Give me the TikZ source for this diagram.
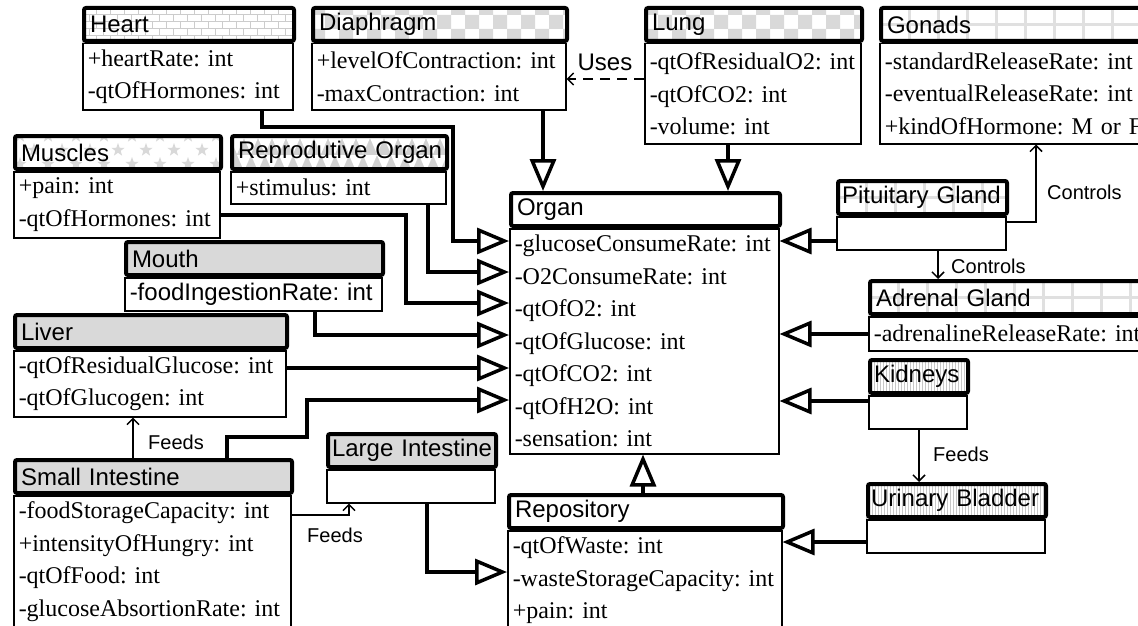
\documentclass[tikz,border=0pt]{standalone}
\usepackage{fontspec}
\setmainfont{Liberation Serif}
\setsansfont{Liberation Sans}
\usetikzlibrary{arrows.meta}

% header backgrounds, drawn in a scope shifted to the header's bottom left corner
\newcommand\hdrchecker{\foreach \cx in {0,28,...,308}{\fill[black!15] (\cx,0) rectangle ++(14,-14) (\cx+14,-14) rectangle ++(14,-14) (\cx,-28) rectangle ++(14,-14);}}
\newcommand\hdrbricks{\foreach \ry/\off in {0/0,-7/7,-14/0,-21/7,-28/0}{\fill[black!20] (0,\ry) rectangle (320,\ry-1.2);
  \foreach \cx in {0,14,...,308}{\fill[black!20] (\cx+\off,\ry) rectangle ++(1.2,-7);}}}
\newcommand\hdrgrid{\foreach \cx in {0,29,...,319}{\fill[black!12] (\cx,0) rectangle ++(3,-33);} \fill[black!12] (0,-17) rectangle (320,-20);}
\newcommand\hdrstars{\foreach \cx in {0,28,...,308}{\foreach \sx/\sy in {7/-7,21/-21,7/-35}{
  \fill[black!15,shift={(\cx+\sx,\sy)}] (270:7) -- (234:2.8) -- (198:7) -- (162:2.8) -- (126:7) -- (90:2.8) -- (54:7) -- (18:2.8) -- (342:7) -- (306:2.8) -- cycle;}}}
\newcommand\hdrspikes{\fill[black!18] (0,0) rectangle (320,-33);
  \foreach \cx in {0,14,...,308}{\fill[white] (\cx,-33) -- (\cx+7,-17) -- (\cx+14,-33) -- cycle (\cx+7,-16) -- (\cx+14,0) -- (\cx+21,-16) -- cycle;}}
\newcommand\hdrlines{\foreach \cx in {0,3,...,318}{\fill[black!22] (\cx,0) rectangle ++(0.8,-33);}}

\begin{document}
\begin{tikzpicture}[x=1pt,y=-1pt,
  every node/.style={execute at begin node={\frenchspacing\hyphenpenalty=10000}},
  body/.style={draw, line width=1.5pt, anchor=north west, inner xsep=5pt, inner ysep=2pt,
    align=left, font=\fontsize{24}{32.5}\selectfont},
  hdr/.style={draw, line width=4pt, rounded corners=2pt, anchor=south west, minimum height=33,
    inner xsep=6pt, inner ysep=0pt, align=left, font=\sffamily\fontsize{24}{28}\selectfont},
  gray/.style={fill=black!15},
  inherit/.style={line width=4pt, -{Triangle[open,length=32pt,width=26pt,line width=3.5pt]}},
  assoc/.style={line width=1.5pt, -{Straight Barb[length=6pt,width=12pt]}},
  lbl/.style={font=\sffamily\fontsize{20}{24}\selectfont, inner sep=1pt}]

\clip (0,0) rectangle (1138,626);

% top row
\node[body, minimum width=210, minimum height=66, text width=200] (heart) at (82,43) {+heartRate:~int\\-qtOfHormones:~int};
\begin{scope}[shift={(heart.north west)}] \clip (0,0) rectangle (210,-33); \hdrbricks \end{scope}
\node[hdr, minimum width=210, text width=198] (heartH) at (heart.north west) {Heart};

\node[body, minimum width=254, minimum height=66, text width=244] (diaphragm) at (311,43) {+levelOfContraction:~int\\-maxContraction:~int};
\begin{scope}[shift={(diaphragm.north west)}] \clip (0,0) rectangle (254,-33); \hdrchecker \end{scope}
\node[hdr, minimum width=254, text width=242] (diaphragmH) at (diaphragm.north west) {Diaphragm};

\node[body, minimum width=216, minimum height=100, text width=206] (lung) at (644,43) {-qtOfResidualO2:~int\\-qtOfCO2:~int\\-volume:~int};
\begin{scope}[shift={(lung.north west)}] \clip (0,0) rectangle (216,-33); \hdrchecker \end{scope}
\node[hdr, minimum width=216, text width=204] (lungH) at (lung.north west) {Lung};

\node[body, minimum width=300, minimum height=100, text width=290] (gonads) at (879,43) {-standardReleaseRate:~int\\-eventualReleaseRate:~int\\+kindOfHormone:~M~or~F};
\begin{scope}[shift={(gonads.north west)}] \clip (0,0) rectangle (300,-33); \hdrgrid \end{scope}
\node[hdr, minimum width=300, text width=288] (gonadsH) at (gonads.north west) {Gonads};

% left column
\node[body, minimum width=206, minimum height=66, text width=196] (muscles) at (13,171) {+pain:~int\\-qtOfHormones:~int};
\begin{scope}[shift={(muscles.north west)}] \clip (0,0) rectangle (206,-33); \hdrstars \end{scope}
\node[hdr, minimum width=206, text width=194] (musclesH) at (muscles.north west) {Muscles};

\node[body, minimum width=215, minimum height=32, text width=205] (repro) at (230,171) {+stimulus:~int};
\begin{scope}[shift={(repro.north west)}] \clip (0,0) rectangle (215,-33); \hdrspikes \end{scope}
\node[hdr, minimum width=215, text width=203, inner xsep=5pt] (reproH) at (repro.north west) {Reprodutive~Organ};

\node[body, minimum width=257, minimum height=33, text width=247, font=\sffamily\fontsize{24}{28}\selectfont] (mouth) at (124,277) {-foodIngestionRate:~int};
\node[hdr, gray, minimum width=257, text width=245] (mouthH) at (mouth.north west) {Mouth};

\node[body, minimum width=272, minimum height=66, text width=262] (liver) at (13,350) {-qtOfResidualGlucose:~int\\-qtOfGlucogen:~int};
\node[hdr, gray, minimum width=272, text width=260] (liverH) at (liver.north west) {Liver};

\node[body, minimum width=277, minimum height=132, text width=267] (small) at (13,495) {-foodStorageCapacity:~int\\+intensityOfHungry:~int\\-qtOfFood:~int\\-glucoseAbsortionRate:~int};
\node[hdr, gray, minimum width=277, text width=265] (smallH) at (small.north west) {Small~Intestine};

\node[body, minimum width=168, minimum height=33, text width=158] (large) at (326,469) {};
\node[hdr, gray, minimum width=168, text width=160, inner xsep=4pt] (largeH) at (large.north west) {Large~Intestine};

% centre
\node[body, minimum width=269, minimum height=225, text width=259] (organ) at (509,228) {-glucoseConsumeRate:~int\\-O2ConsumeRate:~int\\-qtOfO2:~int\\-qtOfGlucose:~int\\-qtOfCO2:~int\\-qtOfH2O:~int\\-sensation:~int};
\node[hdr, minimum width=269, text width=257] (organH) at (organ.north west) {Organ};

\node[body, minimum width=274, minimum height=99, text width=264] (repo) at (507,530) {-qtOfWaste:~int\\-wasteStorageCapacity:~int\\+pain:~int};
\node[hdr, minimum width=274, text width=262] (repoH) at (repo.north west) {Repository};

% right column
\node[body, minimum width=169, minimum height=33, text width=159] (pituitary) at (836,216) {};
\begin{scope}[shift={(pituitary.north west)}] \clip (0,0) rectangle (169,-33); \hdrgrid \end{scope}
\node[hdr, minimum width=169, text width=161, inner xsep=4pt] (pituitaryH) at (pituitary.north west) {Pituitary~Gland};

\node[body, minimum width=300, minimum height=34, text width=290] (adrenal) at (868,316) {-adrenalineReleaseRate:~int};
\begin{scope}[shift={(adrenal.north west)}] \clip (0,0) rectangle (300,-33); \hdrgrid \end{scope}
\node[hdr, minimum width=300, text width=288] (adrenalH) at (adrenal.north west) {Adrenal~Gland};

\node[body, minimum width=98, minimum height=33, text width=88] (kidneys) at (868,395) {};
\begin{scope}[shift={(kidneys.north west)}] \clip (0,0) rectangle (98,-33); \hdrlines \end{scope}
\node[hdr, minimum width=98, text width=90, inner xsep=4pt] (kidneysH) at (kidneys.north west) {Kidneys};

\node[body, minimum width=178, minimum height=33, text width=168] (bladder) at (866,519) {};
\begin{scope}[shift={(bladder.north west)}] \clip (0,0) rectangle (178,-33); \hdrlines \end{scope}
\node[hdr, minimum width=178, text width=172, inner xsep=3pt] (bladderH) at (bladder.north west) {Urinary~Bladder};

% generalisations
\draw[inherit] (543,0 |- diaphragm.south) -- (543,0 |- organH.north);
\draw[inherit] (728,0 |- lung.south) -- (728,0 |- organH.north);
\draw[inherit] (262,0 |- heart.south) |- (453,127) |- (organ.west |- 0,241);
\draw[inherit] (428,0 |- repro.south) |- (organ.west |- 0,272);
\draw[inherit] (muscles.east |- 0,215) -| (406,303) -- (organ.west |- 0,303);
\draw[inherit] (315,0 |- mouth.south) |- (organ.west |- 0,335);
\draw[inherit] (liver.east |- 0,368) -- (organ.west |- 0,368);
\draw[inherit] (227,0 |- smallH.north) |- (307,437) |- (organ.west |- 0,400);
\draw[inherit] (pituitary.west |- 0,241) -- (organ.east |- 0,241);
\draw[inherit] (adrenal.west |- 0,334) -- (organ.east |- 0,334);
\draw[inherit] (kidneys.west |- 0,401) -- (organ.east |- 0,401);
\draw[inherit] (bladder.west |- 0,542) -- (repo.east |- 0,542);
\draw[inherit] (427,0 |- large.south) |- (repo.west |- 0,572);
\draw[inherit] (643,0 |- repoH.north) -- (643,0 |- organ.south);

% associations
\draw[assoc, dash pattern=on 10pt off 7pt] (lung.west |- 0,79) -- (diaphragm.east |- 0,79);
\node[lbl, font=\sffamily\fontsize{24}{28}\selectfont] (usesL) at (605,62) {Uses};
\draw[assoc] (pituitary.east |- 0,222) -| (1036,0 |- gonads.south);
\node[lbl, anchor=west] (controlsA) at (1046,192) {Controls};
\draw[assoc] (938,0 |- pituitary.south) -- (938,0 |- adrenalH.north);
\node[lbl, anchor=west] (controlsB) at (950,266) {Controls};
\draw[assoc] (919,0 |- kidneys.south) -- (919,0 |- bladderH.north);
\node[lbl, anchor=west] (feedsA) at (932,454) {Feeds};
\draw[assoc] (133,0 |- smallH.north) -- (133,0 |- liver.south);
\node[lbl, anchor=west] (feedsB) at (147,442) {Feeds};
\draw[assoc] (small.east |- 0,515) -| (349,0 |- large.south);
\node[lbl, anchor=west] (feedsC) at (306,535) {Feeds};

\end{tikzpicture}
\end{document}
